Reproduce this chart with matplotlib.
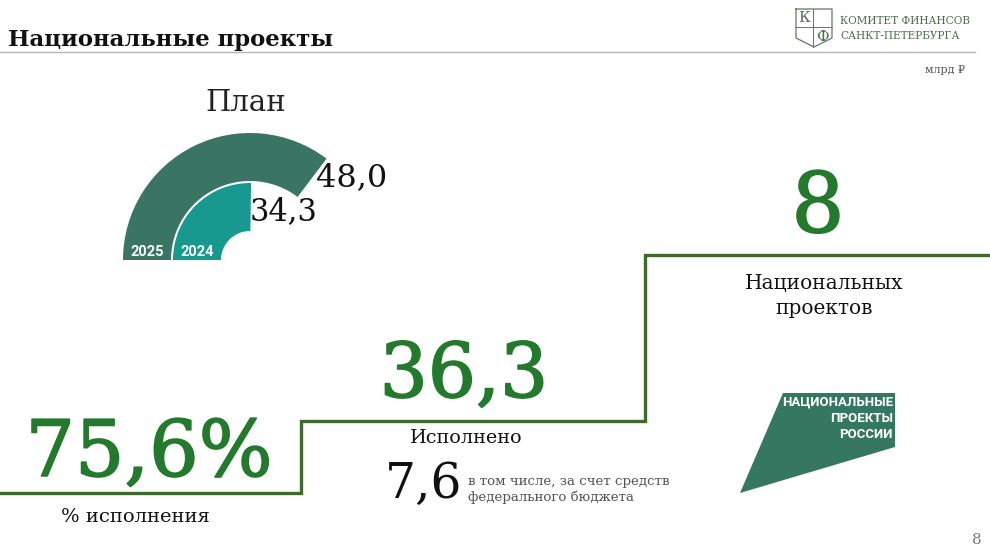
import matplotlib
matplotlib.use("Agg")
import matplotlib.pyplot as plt
import matplotlib.patheffects as pe
from matplotlib.patches import Wedge, Polygon

# data
plan_years = ["2025", "2024"]
plan_values = [48.0, 34.3]
plan_labels = ["48,0", "34,3"]
gauge_max = 68.0
executed = "36,3"
execution_pct = "75,6%"
federal = "7,6"
projects_count = "8"

serif = ["DejaVu Serif", "DejaVu Sans"]
green = "#247a2c"
line_green = "#3e6a2b"

def heavy(col, w=1.2):
    # thicken thin serif strokes a bit
    return [pe.Stroke(linewidth=w, foreground=col), pe.Normal()]

fig = plt.figure(figsize=(9.9, 5.57), dpi=100)
ax = fig.add_axes([0, 0, 1, 1])
ax.set_xlim(0, 990)
ax.set_ylim(557, 0)
ax.axis("off")

# header
ax.text(8, 40, "Национальные проекты", fontsize=16.4, fontweight="bold",
        family=serif, color="#111111", va="center", ha="left")
ax.plot([0, 975], [52, 52], color="#b5b5b5", lw=1)

# logo shield
shield_x = [796, 832, 832, 814, 796, 796]
shield_y = [9, 9, 38, 47, 38, 9]
ax.plot(shield_x, shield_y, color="#5e7d5a", lw=0.9)
ax.plot([813, 813], [9, 47], color="#5e7d5a", lw=0.7)
ax.plot([796, 832], [27, 27], color="#5e7d5a", lw=0.7)
ax.text(804, 18, "К", fontsize=11, family=serif, color="#4d6e4a", ha="center", va="center")
ax.text(822, 37, "Ф", fontsize=11, family=serif, color="#4d6e4a", ha="center", va="center")
ax.text(840, 21, "КОМИТЕТ ФИНАНСОВ", fontsize=7.6, family=serif, color="#4d6e4a",
        ha="left", va="center")
ax.text(840, 36, "САНКТ-ПЕТЕРБУРГА", fontsize=7.6, family=serif, color="#4d6e4a",
        ha="left", va="center")
ax.text(965, 70, "млрд ₽", fontsize=8, family=serif, color="#555555",
        ha="right", va="center")

# gauge
cx, cy = 250, 260
radii = [(79, 127), (29, 77)]
for val, (r_in, r_out), col, yr in zip(plan_values, radii, ["#3a7563", "#17998f"], plan_years):
    sweep = 180 * val / gauge_max
    ax.add_patch(Wedge((cx, cy), r_out, 180, 180 + sweep, width=r_out - r_in,
                       facecolor=col, edgecolor="none"))
    ax.text(cx - (r_in + r_out) / 2, 252, yr, fontsize=10.5, fontweight="bold",
            family="Roboto", color="white", ha="center", va="center")
ax.text(352, 178, plan_labels[0], fontsize=23, family=serif, color="#111111",
        ha="center", va="center")
ax.text(284, 212, plan_labels[1], fontsize=22, family=serif, color="#111111",
        ha="center", va="center")
ax.text(246, 103, "План", fontsize=21, family=serif, color="#222222",
        ha="center", va="center")

# step line
step_x = [0, 301, 301, 645, 645, 990]
step_y = [493, 493, 421, 421, 255, 255]
ax.plot(step_x, step_y, color=line_green, lw=2.4, solid_joinstyle="miter")

# big numbers
ax.text(149, 454, execution_pct, fontsize=56, family=serif, color=green,
        ha="center", va="center", path_effects=heavy(green))
ax.text(135, 517, "% исполнения", fontsize=14, family=serif, color="#111111",
        ha="center", va="center")

ax.text(464, 376, executed, fontsize=54.5, family=serif, color=green,
        ha="center", va="center", path_effects=heavy(green))
ax.text(466, 438, "Исполнено", fontsize=13.8, family=serif, color="#111111",
        ha="center", va="center")
ax.text(424, 484, federal, fontsize=35, family=serif, color="#111111",
        ha="center", va="center")
ax.text(468, 481, "в том числе, за счет средств", fontsize=9.6, family=serif,
        color="#555555", ha="left", va="center")
ax.text(468, 497, "федерального бюджета", fontsize=9.6, family=serif,
        color="#555555", ha="left", va="center")

ax.text(818, 209, projects_count, fontsize=60, family=serif, color=green,
        ha="center", va="center", path_effects=heavy(green))
ax.text(824, 284, "Национальных", fontsize=14.5, family=serif, color="#111111",
        ha="center", va="center")
ax.text(824, 308, "проектов", fontsize=14.5, family=serif, color="#111111",
        ha="center", va="center")

# national projects logo
ax.add_patch(Polygon([[783, 393], [895, 393], [895, 447], [740, 493]],
                     closed=True, facecolor="#367761", edgecolor="none"))
for i, s in enumerate(["НАЦИОНАЛЬНЫЕ", "ПРОЕКТЫ", "РОССИИ"]):
    ax.text(893, 402 + 16 * i, s, fontsize=9.5, fontweight="bold", family="Roboto",
            color="white", ha="right", va="center")

ax.text(982, 540, "8", fontsize=11, family=serif, color="#777777",
        ha="right", va="center")

fig.savefig("out.png", dpi=100)
